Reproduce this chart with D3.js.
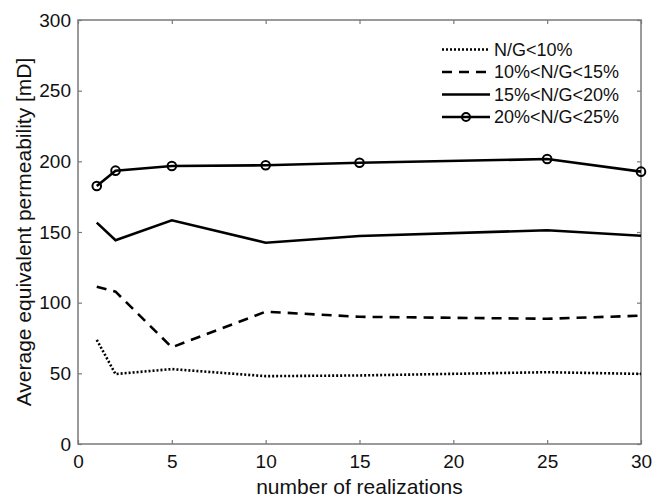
<!DOCTYPE html>
<html>
<head>
<meta charset="utf-8">
<script src="https://cdn.jsdelivr.net/npm/d3@7"></script>
<style>
  body { margin: 0; background: #fff; }
  svg { font-family: "Liberation Sans", Arial, sans-serif; }
</style>
</head>
<body>
<div id="vis"></div>
<script>
// realizations on the x axis
var realizations = [1, 2, 5, 10, 15, 25, 30];

// average equivalent permeability [mD] per N/G class
var ng10 = [73.6, 49.5, 53, 48, 48.5, 50.8, 49.6];
var ng15 = [111.3, 107.8, 68.4, 93.6, 90, 88.6, 90.8];
var ng20 = [156.6, 144.2, 158.3, 142.4, 147.2, 151.2, 147.4];
var ng25 = [182.6, 193.4, 196.7, 197.2, 199, 201.6, 192.7];

var seriesNames = ['N/G<10%', '10%<N/G<15%', '15%<N/G<20%', '20%<N/G<25%'];
var xTicks = [0, 5, 10, 15, 20, 25, 30];
var yTicks = [0, 50, 100, 150, 200, 250, 300];

var width = 653, height = 498;
var margin = { top: 20, left: 78, bottom: 54, right: 12 };

var svg = d3.select('#vis').append('svg')
  .attr('width', width)
  .attr('height', height);

var x = d3.scaleLinear().domain([0, 30]).range([margin.left, width - margin.right]);
var y = d3.scaleLinear().domain([0, 300]).range([height - margin.bottom, margin.top]);

var axisColor = '#7a7a7a';

// box + inward ticks, matlab style
function styleAxis(g) {
  g.select('.domain').remove();
  g.selectAll('.tick line').attr('stroke', axisColor).attr('stroke-width', 1.2);
  g.selectAll('.tick text').attr('fill', '#111').style('font-size', '19px');
}

svg.append('g')
  .attr('transform', 'translate(0,' + y(0) + ')')
  .call(d3.axisBottom(x).tickValues(xTicks).tickSizeInner(-4).tickSizeOuter(0).tickPadding(11))
  .call(styleAxis);

svg.append('g')
  .attr('transform', 'translate(0,' + y(300) + ')')
  .call(d3.axisTop(x).tickValues(xTicks).tickSizeInner(-4).tickSizeOuter(0).tickFormat(''))
  .call(styleAxis);

svg.append('g')
  .attr('transform', 'translate(' + x(0) + ',0)')
  .call(d3.axisLeft(y).tickValues(yTicks).tickSizeInner(-4).tickSizeOuter(0).tickPadding(7))
  .call(styleAxis);

svg.append('g')
  .attr('transform', 'translate(' + x(30) + ',0)')
  .call(d3.axisRight(y).tickValues(yTicks).tickSizeInner(-4).tickSizeOuter(0).tickFormat(''))
  .call(styleAxis);

svg.append('rect')
  .attr('x', x(0)).attr('y', y(300))
  .attr('width', x(30) - x(0)).attr('height', y(0) - y(300))
  .attr('fill', 'none')
  .attr('stroke', axisColor)
  .attr('stroke-width', 1.5);

var line = d3.line()
  .x(function(d) { return x(d[0]); })
  .y(function(d) { return y(d[1]); });

var styles = [
  { dash: '2,2', w: 2.6 },
  { dash: '10,7', w: 2.6 },
  { dash: null, w: 2.6 },
  { dash: null, w: 2.6 }
];

var allSeries = [ng10, ng15, ng20, ng25];

allSeries.forEach(function(vals, i) {
  var pts = realizations.map(function(r, j) { return [r, vals[j]]; });
  svg.append('path')
    .datum(pts)
    .attr('d', line)
    .attr('fill', 'none')
    .attr('stroke', '#000')
    .attr('stroke-width', styles[i].w)
    .attr('stroke-dasharray', styles[i].dash);
});

svg.append('g').selectAll('circle')
  .data(realizations)
  .enter()
  .append('circle')
  .attr('cx', function(d) { return x(d); })
  .attr('cy', function(d, i) { return y(ng25[i]); })
  .attr('r', 4.3)
  .attr('fill', 'none')
  .attr('stroke', '#000')
  .attr('stroke-width', 2);

// legend (no border)
var legend = svg.append('g').attr('transform', 'translate(442,49.5)');
seriesNames.forEach(function(name, i) {
  var ly = i * 22.5;
  legend.append('line')
    .attr('x1', 0).attr('x2', 48)
    .attr('y1', ly).attr('y2', ly)
    .attr('stroke', '#000')
    .attr('stroke-width', styles[i].w)
    .attr('stroke-dasharray', styles[i].dash);
  if (i === 3) {
    legend.append('circle')
      .attr('cx', 24).attr('cy', ly).attr('r', 4)
      .attr('fill', 'none').attr('stroke', '#000').attr('stroke-width', 2);
  }
  legend.append('text')
    .attr('x', 52).attr('y', ly)
    .attr('dy', '0.36em')
    .style('font-size', '18px')
    .attr('fill', '#111')
    .text(name);
});

svg.append('text')
  .attr('x', (x(0) + x(30)) / 2)
  .attr('y', 494)
  .attr('text-anchor', 'middle')
  .style('font-size', '21px')
  .attr('fill', '#111')
  .text('number of realizations');

svg.append('text')
  .attr('transform', 'translate(31,' + ((y(0) + y(300)) / 2) + ') rotate(-90)')
  .attr('text-anchor', 'middle')
  .style('font-size', '21px')
  .attr('fill', '#111')
  .text('Average equivalent permeability [mD]');
</script>
</body>
</html>
